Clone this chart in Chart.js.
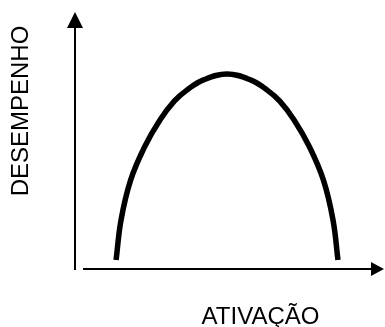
<!DOCTYPE html>
<html lang="pt">
<head>
    <meta charset="UTF-8">
    <title>Desempenho x Ativação</title>
    <script src="https://cdn.jsdelivr.net/npm/chart.js"></script>
    <style>
        html, body { margin: 0; padding: 0; background: #fff; }
        .chart-container { position: relative; width: 385px; height: 327px; }
    </style>
</head>
<body>
    <div class="chart-container">
        <canvas id="curveChart" width="385" height="327"></canvas>
    </div>

    <script>
        // Curve data (arbitrary units, 0-100 on both axes)
        const ativacao = [13.3, 14.9, 18.0, 22.5, 27.5, 32.2, 36.3, 41.4, 49.2,
                          57.0, 62.1, 66.2, 70.9, 75.9, 80.4, 83.5, 85.1];
        const desempenho = [3.5, 19.1, 34.6, 47.5, 58.0, 65.4, 69.7, 73.5, 75.9,
                            73.5, 69.7, 65.4, 58.0, 47.5, 34.6, 19.1, 3.5];

        const xTitle = 'ATIVAÇÃO';
        const yTitle = 'DESEMPENHO';

        const points = ativacao.map((x, i) => ({ x: x, y: desempenho[i] }));

        // Axes with arrow heads + axis titles
        const arrowAxes = {
            id: 'arrowAxes',
            afterDraw(chart) {
                const ctx = chart.ctx;
                const xs = chart.scales.x, ys = chart.scales.y;
                const x0 = xs.getPixelForValue(0);
                const x1 = xs.getPixelForValue(100);
                const y0 = ys.getPixelForValue(0);
                const y1 = ys.getPixelForValue(100);

                ctx.save();
                ctx.strokeStyle = '#000';
                ctx.fillStyle = '#000';
                ctx.lineWidth = 2;

                // y axis
                ctx.beginPath();
                ctx.moveTo(x0, y0 + 1);
                ctx.lineTo(x0, y1 + 14);
                ctx.stroke();
                ctx.beginPath();
                ctx.moveTo(x0, y1);
                ctx.lineTo(x0 - 8, y1 + 16);
                ctx.lineTo(x0 + 8, y1 + 16);
                ctx.closePath();
                ctx.fill();

                // x axis
                ctx.beginPath();
                ctx.moveTo(x0 + 8, y0);
                ctx.lineTo(x1 - 12, y0);
                ctx.stroke();
                ctx.beginPath();
                ctx.moveTo(x1, y0);
                ctx.lineTo(x1 - 13, y0 - 7);
                ctx.lineTo(x1 - 13, y0 + 7);
                ctx.closePath();
                ctx.fill();

                // titles
                ctx.font = '24px "Liberation Sans", Arial, sans-serif';
                ctx.textAlign = 'center';
                ctx.textBaseline = 'alphabetic';
                ctx.fillText(xTitle, 260.5, 323.5);

                ctx.translate(28, 111);
                ctx.rotate(-Math.PI / 2);
                ctx.fillText(yTitle, 0, 0);
                ctx.restore();
            }
        };

        new Chart(document.getElementById('curveChart'), {
            type: 'line',
            data: {
                datasets: [{
                    data: points,
                    borderColor: '#000',
                    borderWidth: 5.5,
                    borderCapStyle: 'butt',
                    borderJoinStyle: 'round',
                    pointRadius: 0,
                    fill: false,
                    tension: 0.4
                }]
            },
            options: {
                responsive: false,
                animation: false,
                layout: { padding: { left: 75, right: 1, top: 12, bottom: 58 } },
                plugins: {
                    legend: { display: false },
                    tooltip: { enabled: false }
                },
                scales: {
                    x: { type: 'linear', min: 0, max: 100, display: false },
                    y: { type: 'linear', min: 0, max: 100, display: false }
                }
            },
            plugins: [arrowAxes]
        });
    </script>
</body>
</html>
